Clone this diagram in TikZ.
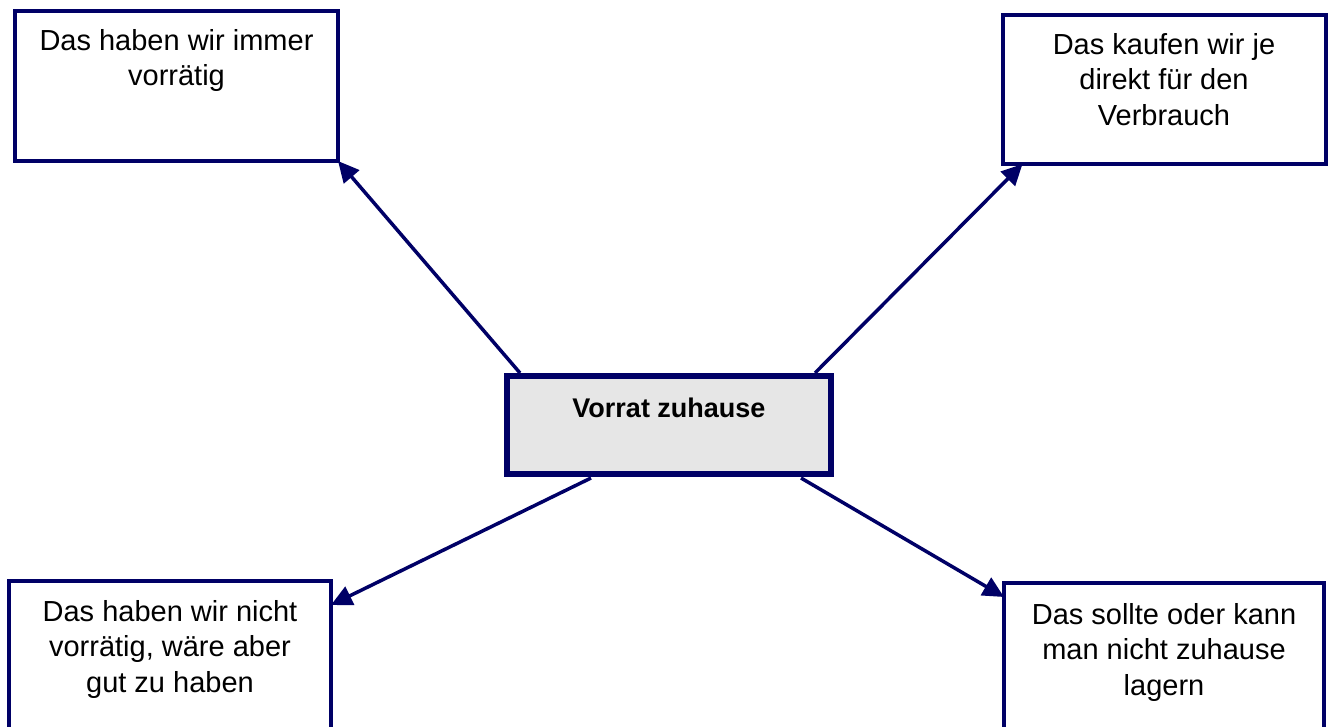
\documentclass[tikz,border=0pt]{standalone}
\usepackage{fontspec}
\setmainfont{Liberation Sans}
\usetikzlibrary{arrows.meta}
\definecolor{navy}{RGB}{0,0,102}
\definecolor{boxgray}{RGB}{230,230,230}
\tikzset{
  outerbox/.style={draw=navy, line width=4pt, fill=white, inner sep=0pt, outer sep=0pt,
    minimum width=323pt, minimum height=150pt},
  centerbox/.style={draw=navy, line width=6pt, fill=boxgray, inner sep=0pt, outer sep=0pt,
    minimum width=324pt, minimum height=98pt},
  boxtext/.style={anchor=north, align=center, inner sep=0pt,
    font=\fontsize{29}{35.5}\selectfont},
  link/.style={draw=navy, line width=3.5pt, -{Triangle[length=21pt,width=20pt]}}
}
\begin{document}
\begin{tikzpicture}[x=1pt,y=-1pt]
  \useasboundingbox (0,0) rectangle (1332,727);

  % central topic
  \node[centerbox] (c) at (669,425) {};
  \node[anchor=base, inner sep=0pt, font=\fontsize{27}{36}\selectfont\bfseries] (ct) at (669,417) {Vorrat zuhause};

  % four categories; text blocks hang from the cap line of their first row
  \node[outerbox] (tl) at (176.5,86) {};
  \node[boxtext] (tlt) at (176.5,29) {Das haben wir immer\\vorrätig};

  \node[outerbox, minimum height=149pt] (tr) at (1164,89.5) {};
  \node[boxtext] (trt) at (1164,33) {Das kaufen wir je\\direkt für den\\Verbrauch};

  \node[outerbox, minimum width=322pt, minimum height=180pt] (bl) at (170,671) {};
  \node[boxtext] (blt) at (170,600) {Das haben wir nicht\\vorrätig, wäre aber\\gut zu haben};

  \node[outerbox, minimum width=320pt, minimum height=180pt] (br) at (1164,673) {};
  \node[boxtext] (brt) at (1164,603) {Das sollte oder kann\\man nicht zuhause\\lagern};

  % connector ends
  \coordinate (s1) at (520,373);
  \coordinate (s2) at (815,373);
  \coordinate (s3) at (591,478);
  \coordinate (s4) at (801,478);
  \coordinate (e1) at (tl.south east);
  \coordinate (e2) at ([xshift=20pt]tr.south west);
  \coordinate (e3) at ([yshift=-24pt]bl.north east);
  \coordinate (e4) at ([yshift=-14pt]br.north west);

  \draw[link] (s1) -- (e1);
  \draw[link] (s2) -- (e2);
  \draw[link] (s3) -- (e3);
  \draw[link] (s4) -- (e4);
\end{tikzpicture}
\end{document}
